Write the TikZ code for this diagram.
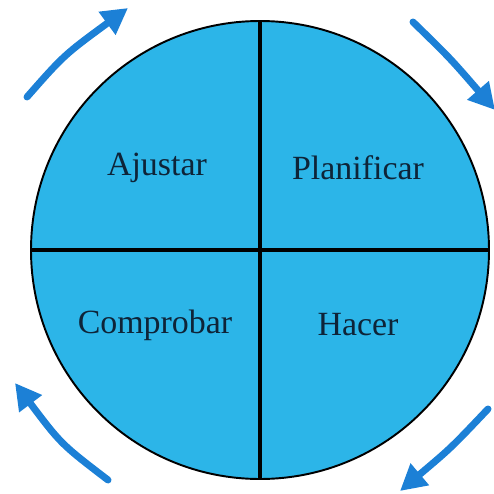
\documentclass[tikz,border=0pt]{standalone}
\usepackage{fontspec}
\setmainfont{Liberation Serif}
\usetikzlibrary{positioning, arrows.meta}
\definecolor{cyclefill}{HTML}{2CB5E8}
\definecolor{cyclearrow}{HTML}{1C80D6}
\definecolor{cycletext}{HTML}{0E2438}

\begin{document}
\begin{tikzpicture}[
    x=0.2mm, y=-0.2mm,
    every node/.style={font=\fontsize{19.3}{22}\selectfont, text=cycletext},
    disk/.style={circle, draw, line width=1.1pt, fill=cyclefill, inner sep=0pt, minimum size=91.6mm},
    divider/.style={line width=1.8pt},
    cyc/.style={-{Triangle[length=5.2mm, width=5.4mm]}, line width=1.4mm, draw=cyclearrow, line cap=round},
]
\useasboundingbox (0,0) rectangle (494,494);

% ── Circle and quarters ──────────────────────────────────────────────────────
\node[disk] (pdca) at (260,250) {};
\draw[divider] (pdca.north) -- (pdca.south);
\draw[divider] (pdca.west) -- (pdca.east);

% ── Phases ───────────────────────────────────────────────────────────────────
\node (ajustar)    at (157,168) {Ajustar};
\node (planificar) at (358,168) {Planificar};
\node (comprobar)  at (155,325) {Comprobar};
\node (hacer)      at (358,325) {Hacer};

% ── Turning arrows ───────────────────────────────────────────────────────────
\coordinate (tlFrom) at (27,97);   \coordinate (tlTo) at (128,8);
\coordinate (trFrom) at (413,22);  \coordinate (trTo) at (495,110);
\coordinate (brFrom) at (488,409); \coordinate (brTo) at (400,491);
\coordinate (blFrom) at (108,480); \coordinate (blTo) at (15,383);

\draw[cyc] (tlFrom) .. controls (64,55) .. (tlTo);
\draw[cyc] (trFrom) .. controls (450,58) .. (trTo);
\draw[cyc] (brFrom) .. controls (451,448) .. (brTo);
\draw[cyc] (blFrom) .. controls (61,444) .. (blTo);

\end{tikzpicture}
\end{document}
